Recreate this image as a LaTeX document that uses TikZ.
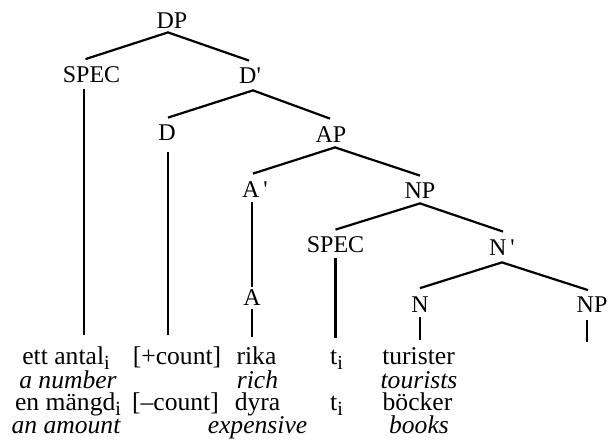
\documentclass[tikz,border=0pt]{standalone}
\usepackage{fontspec}
\setmainfont{Liberation Serif}
\usetikzlibrary{calc}
\newcommand{\subi}{\raisebox{-0.45ex}{\fontsize{10}{12}\selectfont i}}
\begin{document}
\begin{tikzpicture}[x=0.5pt,y=-0.5pt,
  lab/.style={font=\fontsize{12}{14}\selectfont, inner sep=0pt, outer sep=0pt, text height=7.9pt, text depth=0pt, anchor=center},
  word/.style={font=\fontsize{12.8}{15}\selectfont, inner sep=0pt, anchor=base},
  gloss/.style={word, font=\fontsize{12.8}{15}\selectfont\itshape},
  edge/.style={line width=1.1pt}]
\useasboundingbox (0,0) rectangle (608,443);
% labels
\node[lab] (DP) at (172,20.5) {DP};
\node[lab] (S1) at (91.5,75) {SPEC};
\node[lab] (Db) at (250,75.5) {D\textquotesingle};
\node[lab] (D) at (167,132.5) {D};
\node[lab] (AP) at (331,134.5) {AP};
\node[lab] (Ab) at (255,189.5) {A\,\textquotesingle};
\node[lab] (NP1) at (420,190.5) {NP};
\node[lab] (A) at (252,298) {A};
\node[lab] (S2) at (335.5,245) {SPEC};
\node[lab] (Nb) at (502,247.5) {N\,\textquotesingle};
\node[lab] (N) at (420,305) {N};
\node[lab] (NP2) at (592,305) {NP};
% free ends of vertical lines
\coordinate (e1) at (84,335);
\coordinate (e2) at (168,335);
\coordinate (e3) at (252,337);
\coordinate (e4) at (335.5,338);
\coordinate (e5) at (420,340);
\coordinate (e6) at (587,342);
% branches
\draw[edge] ($(S1.north)+(-6,-8)$) -- ($(DP.south)+(-4,4)$) -- ($(Db.north)+(-1,-7)$);
\draw[edge] ($(D.north)+(1,-7)$) -- ($(Db.south)+(3,7)$) -- ($(AP.north)+(-1,-8)$);
\draw[edge] ($(Ab.north)+(-2,-8)$) -- ($(AP.south)+(4,5)$) -- ($(NP1.north)+(0,-7)$);
\draw[edge] ($(S2.north)+(0,-7.5)$) -- ($(NP1.south)+(0,5)$) -- ($(Nb.north)+(1,-8)$);
\draw[edge] ($(N.north)+(0,-9)$) -- ($(Nb.south)+(0,7)$) -- ($(NP2.north)+(-4,-7)$);
% verticals
\draw[edge] ($(S1.south)+(-7.5,6)$) -- (e1);
\draw[edge] ($(D.south)+(1,12)$) -- (e2);
\draw[edge] ($(Ab.south)+(-3,5)$) -- ($(A.north)+(0,-3)$);
\draw[edge] ($(A.south)+(0,3)$) -- (e3);
\draw[edge] ($(S2.south)+(0,5)$) -- (e4);
\draw[edge] ($(N.south)+(0,4)$) -- (e5);
\draw[edge] ($(NP2.south)+(-5,7)$) -- (e6);
% row 1
\node[word] (w11) at (66,364) {ett antal\subi};
\node[word] (w12) at (177,364) {[+count]};
\node[word] (w13) at (256.5,364) {rika};
\node[word] (w14) at (336.5,364) {t\subi};
\node[word] (w15) at (418.5,364) {turister};
% row 2
\node[gloss] (g21) at (68,388) {a number};
\node[gloss] (g23) at (257.5,388) {rich};
\node[gloss] (g25) at (419,388) {tourists};
% row 3
\node[word] (w31) at (68,410) {en mängd\subi};
\node[word] (w32) at (175.5,410) {[\textendash count]};
\node[word] (w33) at (257.5,410) {dyra};
\node[word] (w34) at (336.5,410) {t\subi};
\node[word] (w35) at (417.5,410) {böcker};
% row 4
\node[gloss] (g41) at (66,433) {an amount};
\node[gloss] (g43) at (257.5,433) {expensive};
\node[gloss] (g45) at (419,433) {books};
\end{tikzpicture}
\end{document}
